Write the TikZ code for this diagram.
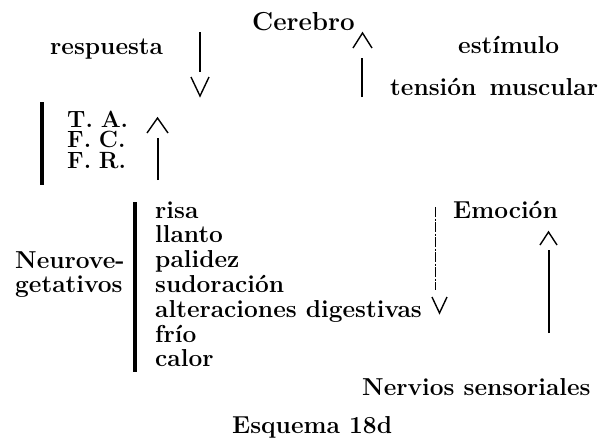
\documentclass[tikz,border=0pt]{standalone}
\usepackage{fontspec}
\begin{document}
\begin{tikzpicture}[x=1pt,y=-1pt,
  lbl/.style={anchor=base west,inner sep=0pt,font=\fontsize{24.5}{28}\selectfont\bfseries},
  shaft/.style={line width=1.3pt},
  vhead/.style={line width=1.4pt,line join=miter},
  bar/.style={line width=3.6pt},
  dotline/.style={line width=0.8pt,dash pattern=on 10pt off 1.5pt on 2pt off 1.5pt}]
\useasboundingbox[fill=white] (0,0) rectangle (611,440);
% top
\node[lbl,anchor=base,font=\fontsize{26}{30}\selectfont\bfseries] (cer) at (303.5,30) {Cerebro};
\node[lbl] (resp) at (50,54) {respuesta};
\node[lbl] (estim) at (458,53) {estímulo};
\node[lbl] (tens) at (390,95) {tensión\ \,muscular};
% arrow respuesta
\coordinate (a1s) at (200,32); \coordinate (a1e) at (200,72);
\draw[shaft] (a1s) -- (a1e);
\draw[vhead] (191,77) -- (200,96) -- (209,77);
% arrow up to Cerebro
\draw[vhead] (353,48) -- (362.5,33) -- (372,48);
\coordinate (a2s) at (362,97); \coordinate (a2e) at (362,58);
\draw[shaft] (a2s) -- (a2e);
% T.A. block
\draw[bar] (42,102) -- (42,185);
\node[lbl,font=\fontsize{23.5}{28}\selectfont\bfseries] (ta) at (67,127) {T.\,\,A.};
\node[lbl,font=\fontsize{23.5}{28}\selectfont\bfseries] (fc) at (67,147.5) {F.\,\,C.};
\node[lbl,font=\fontsize{23.5}{28}\selectfont\bfseries] (fr) at (67,168) {F.\,\,R.};
\draw[vhead] (147,133) -- (157.5,118) -- (168,133);
\coordinate (a3s) at (158,180); \coordinate (a3e) at (158,138);
\draw[shaft] (a3s) -- (a3e);
% neurovegetativos
\node[lbl] (neu1) at (15,268) {Neurove-};
\node[lbl] (neu2) at (15,292) {getativos};
\draw[bar] (135,202) -- (135,372);
\foreach \t [count=\i] in {risa,llanto,palidez,sudoración,alteraciones digestivas,frío,calor}
  \node[lbl] (it\i) at (155,{218+24.8*(\i-1)}) {\t};
% dotted arrow
\coordinate (a4s) at (435,207); \coordinate (a4e) at (435,290);
\draw[dotline] (a4s) -- (a4e);
\draw[vhead] (432,297) -- (439.5,313) -- (447,297);
% Emocion
\node[lbl] (emo) at (453,218) {Emoción};
\draw[vhead] (540,245) -- (548.5,232) -- (557,245);
\coordinate (a5s) at (549,333); \coordinate (a5e) at (549,250);
\draw[shaft] (a5s) -- (a5e);
\node[lbl] (nerv) at (362,395) {Nervios sensoriales};
\node[lbl,font=\fontsize{24.5}{28}\selectfont\bfseries\addfontfeature{LetterSpace=5}] (cap) at (232,433) {Esquema 18d};
\end{tikzpicture}
\end{document}
